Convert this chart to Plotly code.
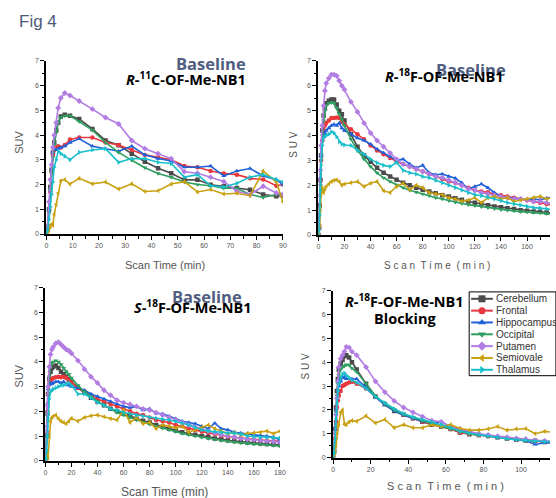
import plotly.graph_objects as go

W, H = 556, 498

regions = ["Cerebellum", "Frontal", "Hippocampus", "Occipital", "Putamen", "Semiovale", "Thalamus"]
colors = ["#4a4a4a", "#e8383d", "#2060d8", "#2f9e60", "#b27ce2", "#c9a010", "#18bfcb"]
symbols = ["square", "circle", "triangle-up", "triangle-down", "diamond", "triangle-left", "triangle-right"]

# ---- frame mid-times (min) ----
t_c11 = [0, 0.5, 1, 1.5, 2, 2.5, 3, 3.75, 4.5, 5.5, 7, 9,
         12.5, 17.5, 22.5, 27.5, 32.5, 37.5, 42.5, 47.5, 52.5, 57.5,
         62.5, 67.5, 72.5, 77.5, 82.5, 87.5, 90]
t_f18 = [0, 0.5, 1, 1.5, 2, 3, 4, 5, 6, 8, 10, 12, 14, 16, 18, 20,
         25, 30, 35, 40, 45, 50, 55, 60, 65, 70, 75, 80, 85, 90, 95, 100,
         105, 110, 115, 120, 125, 130, 135, 140, 145, 150, 155, 160, 165, 170, 175, 180]
t_block = [0, 0.5, 1, 1.5, 2, 2.5, 3, 4, 5, 6, 7, 8.5, 10,
           12.5, 17.5, 22.5, 27.5, 32.5, 37.5, 42.5, 47.5, 52.5, 57.5, 62.5,
           67.5, 72.5, 77.5, 82.5, 87.5, 92.5, 97.5, 102.5, 107.5, 112.5, 117.5]

# ---- R-11C-OF-Me-NB1, baseline ----
c11_cerebellum = [0, 0.3, 1.0, 1.9, 2.6, 3.3, 3.7, 4.2, 4.5, 4.75, 4.82, 4.78,
                  4.65, 4.25, 3.78, 3.59, 3.25, 2.92, 2.66, 2.46, 2.19, 2.19, 1.99, 1.93, 1.86, 1.79, 1.6, 1.53, 1.55]
c11_frontal = [0, 0.2, 0.9, 1.7, 2.5, 3.2, 3.4, 3.5, 3.55, 3.5, 3.6, 3.82,
               3.9, 3.9, 3.7, 3.6, 3.4, 3.2, 3.1, 3.0, 2.75, 2.7, 2.55, 2.45, 2.4, 2.25, 2.2, 1.95, 2.0]
c11_hippocampus = [0, 0.2, 1.0, 1.8, 2.6, 3.3, 3.45, 3.4, 3.45, 3.5, 3.55, 3.7,
                   3.85, 3.55, 3.45, 3.35, 3.55, 3.2, 3.05, 2.95, 2.7, 2.7, 2.75, 2.35, 2.55, 2.65, 2.35, 2.2, 2.0]
c11_occipital = [0, 0.25, 0.9, 1.8, 2.5, 3.1, 3.6, 4.1, 4.5, 4.72, 4.78, 4.78,
                 4.55, 4.2, 3.7, 3.3, 2.98, 2.68, 2.45, 2.3, 2.1, 2.0, 1.95, 1.85, 1.85, 1.6, 1.48, 1.6, 1.62]
c11_putamen = [0, 0.35, 1.3, 2.2, 2.8, 3.5, 4.0, 4.5, 5.1, 5.5, 5.7, 5.6,
               5.38, 5.05, 4.71, 4.45, 3.78, 3.45, 3.25, 3.05, 2.52, 2.46, 2.3, 2.12, 1.73, 1.6, 1.93, 1.66, 1.6]
c11_semiovale = [0, 0.05, 0.15, 0.3, 0.4, 0.35, 0.8, 1.2, 1.65, 2.15, 2.2, 2.02,
                 2.25, 2.03, 2.1, 1.82, 2.03, 1.72, 1.75, 2.02, 2.12, 1.7, 1.8, 1.62, 1.65, 1.55, 2.55, 2.1, 1.3]
c11_thalamus = [0, 0.15, 0.6, 1.1, 1.6, 2.1, 2.7, 3.0, 3.35, 3.25, 3.15, 3.0,
                3.3, 3.4, 3.45, 2.9, 3.05, 3.05, 2.9, 2.85, 2.3, 2.4, 1.95, 1.9, 2.05, 2.3, 2.4, 2.2, 2.1]

# ---- R-18F-OF-Me-NB1, baseline ----
rf_cerebellum = [0, 0.3, 1.2, 2.2, 3.2, 4.2, 4.8, 5.1, 5.3, 5.4, 5.45, 5.45, 5.25, 5.0, 4.85, 4.6,
                 4.05, 3.55, 3.2, 2.95, 2.7, 2.5, 2.35, 2.22, 2.1, 2.0, 1.9, 1.82, 1.75, 1.68, 1.6, 1.55,
                 1.48, 1.42, 1.35, 1.3, 1.25, 1.2, 1.15, 1.12, 1.08, 1.05, 1.0, 0.98, 0.95, 0.93, 0.9, 0.88]
rf_frontal = [0, 0.3, 1.2, 2.2, 3.0, 3.8, 4.2, 4.4, 4.5, 4.6, 4.7, 4.7, 4.72, 4.7, 4.55, 4.45,
              4.25, 4.05, 3.85, 3.6, 3.4, 3.25, 3.1, 2.95, 2.85, 2.75, 2.65, 2.55, 2.45, 2.35, 2.25, 2.15,
              2.1, 2.0, 1.9, 1.8, 1.75, 1.72, 1.65, 1.6, 1.55, 1.5, 1.45, 1.4, 1.35, 1.3, 1.25, 1.2]
rf_hippocampus = [0, 0.3, 1.2, 2.3, 3.2, 3.8, 4.0, 4.1, 4.2, 4.3, 4.4, 4.45, 4.4, 4.5, 4.3, 4.2,
                  4.05, 3.9, 3.8, 3.65, 3.45, 3.3, 3.15, 3.0, 3.05, 2.85, 2.7, 2.8, 2.5, 2.42, 2.45, 2.35,
                  2.28, 2.1, 1.85, 1.95, 2.05, 1.9, 1.7, 1.55, 1.5, 1.48, 1.45, 1.42, 1.45, 1.42, 1.48, 1.52]
rf_occipital = [0, 0.3, 1.1, 2.0, 3.0, 4.0, 4.6, 5.0, 5.2, 5.3, 5.32, 5.3, 5.1, 4.85, 4.65, 4.4,
                3.85, 3.4, 3.05, 2.75, 2.5, 2.3, 2.15, 2.02, 1.9, 1.8, 1.72, 1.65, 1.58, 1.5, 1.45, 1.38,
                1.32, 1.27, 1.22, 1.18, 1.14, 1.1, 1.06, 1.02, 1.0, 0.97, 0.94, 0.92, 0.9, 0.88, 0.86, 0.84]
rf_putamen = [0, 0.4, 1.6, 2.6, 3.6, 4.4, 5.2, 5.8, 6.1, 6.3, 6.45, 6.45, 6.4, 6.2, 6.0, 5.85,
              5.35, 4.95, 4.5, 4.1, 3.8, 3.55, 3.3, 3.05, 2.85, 2.75, 2.65, 2.55, 2.45, 2.35, 2.3, 2.2,
              2.1, 2.0, 1.85, 1.8, 1.7, 1.65, 1.6, 1.55, 1.5, 1.45, 1.45, 1.4, 1.35, 1.35, 1.3, 1.25]
rf_semiovale = [0, 0.1, 0.4, 1.0, 1.6, 1.9, 1.7, 1.85, 1.95, 2.05, 2.15, 2.2, 2.22, 2.15, 2.0, 2.05,
                2.1, 2.15, 1.95, 2.08, 2.15, 1.78, 1.7, 1.95, 2.08, 1.82, 2.0, 1.9, 1.7, 1.65, 1.62, 1.5,
                1.45, 1.36, 1.4, 1.5, 1.3, 1.5, 1.55, 1.45, 1.5, 1.35, 1.4, 1.45, 1.5, 1.55, 1.45, 1.5]
rf_thalamus = [0, 0.2, 0.8, 1.8, 2.8, 3.6, 3.9, 3.95, 4.0, 4.05, 4.15, 4.1, 3.95, 3.75, 3.65, 3.62,
               3.6, 3.4, 3.25, 3.05, 2.9, 2.8, 2.75, 2.92, 2.6, 2.5, 2.45, 2.35, 2.3, 2.2, 2.1, 2.0,
               1.9, 1.8, 1.7, 1.62, 1.58, 1.52, 1.45, 1.38, 1.3, 1.25, 1.2, 1.15, 1.1, 1.08, 1.05, 1.02]

# ---- S-18F-OF-Me-NB1, baseline ----
sf_cerebellum = [0, 0.3, 1.0, 1.9, 2.7, 3.3, 3.6, 3.75, 3.8, 3.85, 3.75, 3.6, 3.5, 3.4, 3.3, 3.2,
                 2.95, 2.75, 2.55, 2.4, 2.25, 2.1, 2.0, 1.9, 1.8, 1.7, 1.62, 1.55, 1.45, 1.38, 1.3, 1.22,
                 1.15, 1.1, 1.05, 1.0, 0.95, 0.9, 0.87, 0.83, 0.8, 0.77, 0.74, 0.72, 0.7, 0.68, 0.66, 0.64]
sf_frontal = [0, 0.3, 1.1, 2.0, 2.7, 3.1, 3.25, 3.3, 3.35, 3.38, 3.4, 3.38, 3.4, 3.35, 3.25, 3.15,
              2.95, 2.8, 2.65, 2.5, 2.4, 2.3, 2.2, 2.1, 2.0, 1.9, 1.85, 1.75, 1.65, 1.6, 1.55, 1.45,
              1.4, 1.32, 1.25, 1.18, 1.12, 1.08, 1.02, 0.98, 0.95, 0.92, 0.88, 0.86, 0.84, 0.82, 0.8, 0.8]
sf_hippocampus = [0, 0.4, 1.4, 2.3, 2.9, 3.1, 3.15, 3.1, 3.15, 3.2, 3.2, 3.15, 3.2, 3.1, 3.05, 3.0,
                  2.95, 2.85, 2.7, 2.6, 2.5, 2.4, 2.3, 2.2, 2.15, 2.2, 2.05, 2.1, 1.92, 1.9, 1.8, 1.7,
                  1.6, 1.55, 1.5, 1.4, 1.3, 1.52, 1.3, 1.25, 1.15, 1.12, 1.1, 1.05, 1.02, 1.0, 0.95, 0.85]
sf_occipital = [0, 0.3, 1.0, 1.9, 2.7, 3.4, 3.8, 3.95, 4.0, 4.05, 4.0, 3.9, 3.75, 3.6, 3.5, 3.35,
                3.05, 2.8, 2.6, 2.4, 2.25, 2.1, 1.95, 1.85, 1.75, 1.65, 1.55, 1.48, 1.4, 1.32, 1.25, 1.18,
                1.1, 1.05, 1.0, 0.95, 0.9, 0.86, 0.82, 0.78, 0.75, 0.72, 0.7, 0.68, 0.66, 0.64, 0.62, 0.6]
sf_putamen = [0, 0.3, 1.2, 2.2, 3.0, 3.8, 4.3, 4.5, 4.6, 4.75, 4.8, 4.7, 4.6, 4.5, 4.45, 4.35,
              4.05, 3.7, 3.4, 3.15, 2.85, 2.65, 2.45, 2.35, 2.28, 2.2, 2.1, 2.05, 1.95, 1.85, 1.75, 1.65,
              1.55, 1.45, 1.35, 1.28, 1.2, 1.12, 1.05, 1.0, 0.95, 0.9, 0.87, 0.85, 0.82, 0.8, 0.78, 0.75]
sf_semiovale = [0, 0.05, 0.2, 0.4, 0.1, 1.0, 1.6, 1.75, 1.8, 1.85, 1.7, 1.6, 1.55, 1.5, 1.6, 1.72,
                1.6, 1.75, 1.82, 1.85, 1.78, 1.7, 1.65, 2.05, 1.55, 1.75, 1.5, 1.55, 1.3, 1.45, 1.4, 1.33,
                1.4, 1.15, 1.25, 1.35, 1.45, 1.3, 1.2, 1.1, 1.15, 1.05, 1.1, 1.13, 1.15, 1.2, 1.1, 1.2]
sf_thalamus = [0, 0.1, 0.4, 1.0, 1.7, 2.5, 2.8, 2.85, 2.9, 2.95, 3.0, 3.05, 3.05, 3.1, 3.15, 3.05,
               2.7, 2.7, 2.55, 2.35, 2.25, 2.1, 2.05, 1.95, 1.9, 1.85, 1.8, 1.75, 1.72, 1.68, 1.65, 1.6,
               1.52, 1.45, 1.35, 1.25, 1.2, 1.18, 1.15, 1.12, 1.13, 1.08, 1.0, 0.98, 0.95, 0.95, 0.93, 0.92]

# ---- R-18F-OF-Me-NB1, blocking ----
bl_cerebellum = [0, 0.3, 1.2, 2.1, 2.8, 3.3, 3.7, 3.95, 4.1, 4.25, 4.3, 4.2, 4.0,
                 3.7, 3.1, 2.55, 2.25, 1.95, 1.8, 1.65, 1.5, 1.38, 1.3, 1.2, 1.05, 0.98, 0.95,
                 0.9, 0.85, 0.8, 0.75, 0.72, 0.7, 0.65, 0.62]
bl_frontal = [0, 0.2, 0.8, 1.5, 2.1, 2.4, 2.6, 2.8, 3.0, 3.05, 3.1, 3.15, 3.18,
              3.1, 2.9, 2.55, 2.25, 2.0, 1.8, 1.65, 1.5, 1.4, 1.32, 1.2, 1.05, 1.0, 0.95,
              0.9, 0.85, 0.8, 0.75, 0.72, 0.7, 0.65, 0.62]
bl_hippocampus = [0, 0.3, 1.2, 2.0, 2.5, 2.8, 3.0, 3.2, 3.35, 3.38, 3.3, 3.32, 3.3,
                  3.3, 2.95, 2.55, 2.2, 1.95, 1.78, 1.65, 1.52, 1.45, 1.5, 1.3, 1.15, 1.05, 1.0,
                  0.92, 0.85, 0.8, 0.75, 0.7, 0.55, 0.62, 0.6]
bl_occipital = [0, 0.25, 1.0, 1.9, 2.6, 3.1, 3.45, 3.7, 3.8, 3.85, 3.9, 3.88, 3.75,
                3.6, 3.1, 2.6, 2.25, 2.0, 1.82, 1.68, 1.55, 1.42, 1.3, 1.2, 1.08, 1.0, 0.95,
                0.9, 0.85, 0.8, 0.75, 0.72, 0.7, 0.67, 0.65]
bl_putamen = [0, 0.2, 1.0, 1.8, 2.5, 3.2, 3.8, 4.15, 4.3, 4.45, 4.65, 4.62, 4.45,
              4.3, 3.8, 3.2, 2.75, 2.38, 2.1, 1.9, 1.72, 1.55, 1.5, 1.3, 1.2, 1.1, 1.0,
              0.95, 0.9, 0.85, 0.8, 0.78, 0.72, 0.7, 0.68]
bl_semiovale = [0, 0.05, 0.2, 0.5, 1.0, 1.3, 1.4, 1.9, 2.0, 1.4, 1.38, 1.5, 1.55,
                1.52, 1.75, 1.45, 1.6, 1.25, 1.38, 1.25, 1.25, 1.38, 1.3, 1.38, 1.22, 1.15, 1.15,
                1.2, 1.3, 1.15, 1.2, 1.22, 1.0, 1.1, 1.05]
bl_thalamus = [0, 0.2, 0.8, 1.6, 2.3, 2.8, 3.1, 3.35, 3.5, 3.55, 3.45, 3.35, 3.25,
               3.15, 2.9, 2.55, 2.3, 2.05, 1.85, 1.7, 1.6, 1.5, 1.38, 1.25, 1.1, 1.02, 0.95,
               0.9, 0.85, 0.78, 0.75, 0.72, 0.68, 0.66, 0.65]

panels = [
    dict(t=t_c11, series=[c11_cerebellum, c11_frontal, c11_hippocampus, c11_occipital,
                          c11_putamen, c11_semiovale, c11_thalamus],
         xdom=(45, 285), ydom=(57.7, 233.3), xrange=[0, 90], dtick=10, mdtick=5),
    dict(t=t_f18, series=[rf_cerebellum, rf_frontal, rf_hippocampus, rf_occipital,
                          rf_putamen, rf_semiovale, rf_thalamus],
         xdom=(321, 556), ydom=(57.7, 234.3), xrange=[0, 177.6], dtick=20, mdtick=10),
    dict(t=t_f18, series=[sf_cerebellum, sf_frontal, sf_hippocampus, sf_occipital,
                          sf_putamen, sf_semiovale, sf_thalamus],
         xdom=(44, 282), ydom=(287.7, 463.3), xrange=[0, 180], dtick=20, mdtick=10),
    dict(t=t_block, series=[bl_cerebellum, bl_frontal, bl_hippocampus, bl_occipital,
                            bl_putamen, bl_semiovale, bl_thalamus],
         xdom=(336, 556), ydom=(291, 460), xrange=[0, 115.4], dtick=20, mdtick=10),
]


def px_x(v):
    return v / W


def px_y(v):
    return 1 - v / H


fig = go.Figure()
layout = dict(width=W, height=H, margin=dict(l=0, r=0, t=0, b=0),
              paper_bgcolor="white", plot_bgcolor="rgba(0,0,0,0)", showlegend=False)

tick_font = dict(family="Liberation Sans, Arial, sans-serif", size=7, color="#555555")
for i, p in enumerate(panels, start=1):
    xa = "xaxis" if i == 1 else f"xaxis{i}"
    ya = "yaxis" if i == 1 else f"yaxis{i}"
    xref = "x" if i == 1 else f"x{i}"
    yref = "y" if i == 1 else f"y{i}"
    for name, col, sym, vals in zip(regions, colors, symbols, p["series"]):
        fig.add_trace(go.Scatter(
            x=p["t"], y=vals, name=name, mode="lines+markers",
            xaxis=xref, yaxis=yref, cliponaxis=True,
            line=dict(color=col, width=1.6),
            marker=dict(symbol=sym, size=4.5, color=col)))
    layout[xa] = dict(domain=[px_x(p["xdom"][0]), px_x(p["xdom"][1])], range=p["xrange"],
                      anchor=yref, showgrid=False, zeroline=False, showline=True,
                      linecolor="black", linewidth=2, ticks="outside", ticklen=4, tickwidth=1.2,
                      tickcolor="black", dtick=p["dtick"], tick0=0, tickfont=tick_font,
                      minor=dict(ticks="outside", ticklen=2.5, tickwidth=1, tickcolor="black",
                                 dtick=p["mdtick"]))
    layout[ya] = dict(domain=[px_y(p["ydom"][1]), px_y(p["ydom"][0])], range=[0, 7],
                      anchor=xref, showgrid=False, zeroline=False, showline=True,
                      linecolor="black", linewidth=2, ticks="outside", ticklen=4, tickwidth=1.2,
                      tickcolor="black", dtick=1, tick0=0, tickfont=tick_font,
                      minor=dict(ticks="outside", ticklen=2.5, tickwidth=1, tickcolor="black",
                                 dtick=0.5))

# Legend key: a hidden pixel-space axis pair spanning the page carries the key samples
layout["xaxis5"] = dict(domain=[0, 1], range=[0, W], visible=False, fixedrange=True,
                        anchor="y5")
layout["yaxis5"] = dict(domain=[0, 1], range=[H, 0], visible=False, fixedrange=True,
                        anchor="x5")
key_left, key_right, key_top, key_bottom = 474, 562, 292, 377
key_row0, key_step = 299, 12
for k, (name, col, sym) in enumerate(zip(regions, colors, symbols)):
    ky = key_row0 + k * key_step
    fig.add_trace(go.Scatter(x=[476, 487, 498], y=[ky, ky, ky], mode="lines",
                             xaxis="x5", yaxis="y5", hoverinfo="skip",
                             line=dict(color=col, width=2)))
    fig.add_trace(go.Scatter(x=[487], y=[ky], mode="markers", xaxis="x5", yaxis="y5",
                             hoverinfo="skip", marker=dict(symbol=sym, size=7, color=col)))

shapes = [dict(type="rect", xref="paper", yref="paper",
               x0=px_x(key_left), x1=px_x(key_right), y0=px_y(key_bottom), y1=px_y(key_top),
               line=dict(color="black", width=1), fillcolor="white", layer="below")]
layout["shapes"] = shapes

annotations = []


def note(text, x, y, size, color="black", family="Open Sans, Arial, sans-serif",
         xanchor="center", angle=0):
    annotations.append(dict(text=text, x=px_x(x), y=px_y(y), xref="paper", yref="paper",
                            showarrow=False, xanchor=xanchor, yanchor="middle", textangle=angle,
                            font=dict(size=size, color=color, family=family)))


for k, name in enumerate(regions):
    note(name, 499, key_row0 + k * key_step, 10, color="#333333",
         family="Liberation Sans, Arial, sans-serif", xanchor="left")

note("Fig 4", 15, 18, 17, color="#4a5a7c", family="Liberation Sans, Arial, sans-serif",
     xanchor="left")

base_col = "#4f5d80"
note("<b>Baseline</b>", 212, 60, 16.5, color=base_col)
note("<b><i>R</i>-<sup>11</sup>C-OF-Me-NB1</b>", 187, 76, 14.5)
note("<b>Baseline</b>", 476, 66, 16.5, color=base_col)
note("<b><i>R</i>-<sup>18</sup>F-OF-Me-NB1</b>", 449, 73, 14.5)
note("<b>Baseline</b>", 208, 297, 16.5, color=base_col)
note("<b><i>S</i>-<sup>18</sup>F-OF-Me-NB1</b>", 193, 307, 14.5)
note("<b><i>R</i>-<sup>18</sup>F-OF-Me-NB1</b>", 408, 301, 14.5)
note("<b>Blocking</b>", 409, 319, 14.5)

lab_font = "Liberation Sans, Arial, sans-serif"
lab_col = "#555555"
note("SUV", 17, 140, 11, color=lab_col, family=lab_font, angle=-90)
note("S U V", 296, 143, 10, color=lab_col, family=lab_font, angle=-90)
note("SUV", 17, 377, 11, color=lab_col, family=lab_font, angle=-90)
note("S U V", 308, 368, 10, color=lab_col, family=lab_font, angle=-90)
note("Scan Time (min)", 165, 265, 11, color=lab_col, family=lab_font)
note("S c a n  T i m e  ( m i n )", 441, 265, 10, color=lab_col, family=lab_font)
note("Scan Time (min)", 165, 495, 12, color=lab_col, family=lab_font)
note("S c a n  T i m e  ( m i n )", 450, 489, 11, color=lab_col, family=lab_font)

layout["annotations"] = annotations
fig.update_layout(**layout)
fig.write_html("out.html")
